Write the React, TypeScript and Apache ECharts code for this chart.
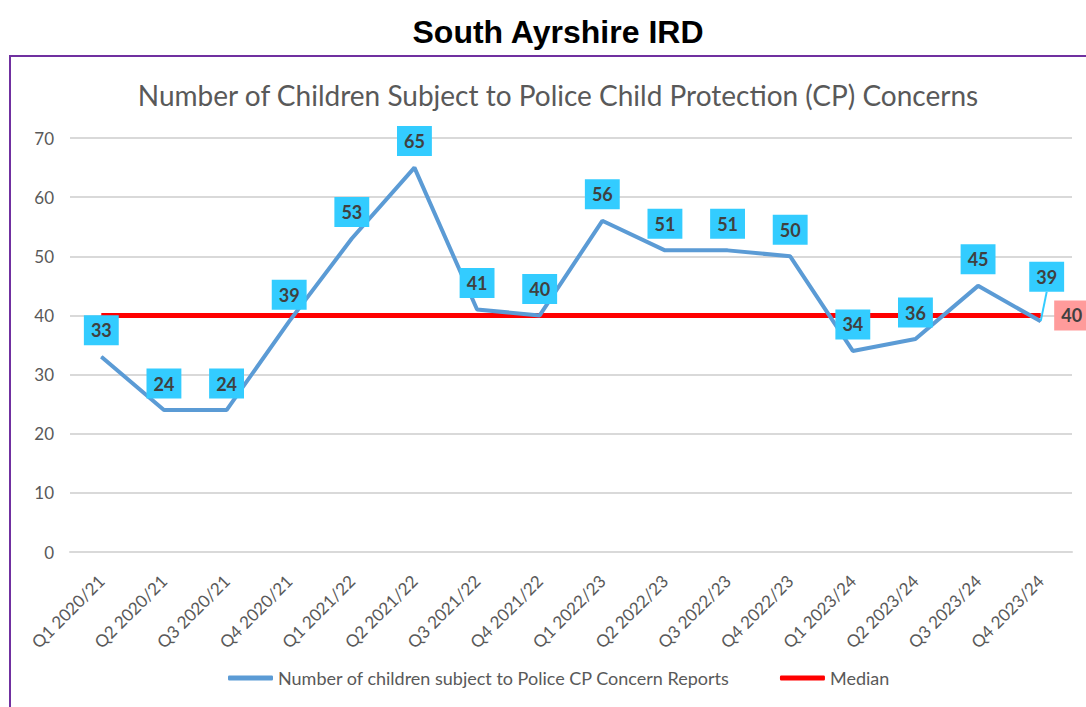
import React, { useEffect, useRef } from "react";
import * as echarts from "echarts";

const categories = [
  "Q1 2020/21", "Q2 2020/21", "Q3 2020/21", "Q4 2020/21",
  "Q1 2021/22", "Q2 2021/22", "Q3 2021/22", "Q4 2021/22",
  "Q1 2022/23", "Q2 2022/23", "Q3 2022/23", "Q4 2022/23",
  "Q1 2023/24", "Q2 2023/24", "Q3 2023/24", "Q4 2023/24",
];
const reports = [33, 24, 24, 39, 53, 65, 41, 40, 56, 51, 51, 50, 34, 36, 45, 39];
const medianValue = 40;
const median = categories.map(() => medianValue);

const pageTitle = "South Ayrshire IRD";
const chartTitle = "Number of Children Subject to Police Child Protection (CP) Concerns";
const seriesName = "Number of children subject to Police CP Concern Reports";
const medianName = "Median";

const FONT = "Lato";

export default function App() {
  const ref = useRef<HTMLDivElement>(null);
  useEffect(() => {
    const chart = echarts.init(ref.current!, null, { renderer: "svg" });
    const lastIdx = reports.length - 1;
    chart.setOption({
      animation: false,
      backgroundColor: "#ffffff",
      textStyle: { fontFamily: FONT },
      title: [
        {
          text: pageTitle,
          left: 553,
          textAlign: "center",
          top: 11,
          textStyle: { fontFamily: "Liberation Sans", fontWeight: "bold", fontSize: 32, color: "#000000" },
        },
        {
          text: chartTitle,
          left: 553,
          textAlign: "center",
          top: 76,
          textStyle: { fontFamily: FONT, fontWeight: "normal", fontSize: 28, color: "#595959" },
        },
      ],
      graphic: [
        {
          type: "rect",
          shape: { x: 10, y: 56, width: 1100, height: 700 },
          style: { fill: "none", stroke: "#7030A0", lineWidth: 2 },
          silent: true,
          z: 0,
        },
      ],
      legend: {
        bottom: 15,
        left: 223,
        itemGap: 50,
        itemWidth: 45,
        itemHeight: 5,
        textStyle: { fontFamily: FONT, fontSize: 18, color: "#595959" },
        data: [
          { name: seriesName, icon: "roundRect", itemStyle: { color: "#5B9BD5" } },
          { name: medianName, icon: "roundRect", itemStyle: { color: "#FF0000" } },
        ],
      },
      grid: { left: 70, right: 14, top: 138, bottom: 155, containLabel: false },
      xAxis: {
        type: "category",
        data: categories,
        boundaryGap: true,
        axisLine: { lineStyle: { color: "#D9D9D9", width: 2 } },
        axisTick: { show: false },
        axisLabel: { rotate: 45, fontFamily: FONT, fontSize: 17, color: "#595959", margin: 26, interval: 0 },
      },
      yAxis: {
        type: "value",
        min: 0,
        max: 70,
        interval: 10,
        axisLine: { show: false },
        axisTick: { show: false },
        axisLabel: { fontFamily: FONT, fontSize: 17, color: "#595959", margin: 16 },
        splitLine: { lineStyle: { color: "#D9D9D9", width: 2 } },
      },
      series: [
        {
          name: seriesName,
          type: "line",
          data: reports.map((v, i) =>
            i === lastIdx
              ? { value: v, labelLine: { show: true, lineStyle: { color: "#33CCFF", width: 2 } } }
              : v
          ),
          symbol: "circle",
          symbolSize: 1,
          showSymbol: true,
          lineStyle: { color: "#5B9BD5", width: 4 },
          itemStyle: { color: "#5B9BD5" },
          z: 3,
          label: {
            show: true,
            position: "top",
            distance: 11,
            backgroundColor: "#33CCFF",
            padding: [6, 7, 6, 7],
            color: "#404040",
            fontWeight: "bold",
            fontFamily: FONT,
            fontSize: 18,
          },
          labelLayout: (params: any) => {
            if (params.dataIndex === lastIdx) return { dx: 6, dy: -18 };
            return {};
          },
        },
        {
          name: medianName,
          type: "line",
          data: median.map((v, i) =>
            i === lastIdx
              ? {
                  value: v,
                  label: {
                    show: true,
                    position: "right",
                    distance: 13,
                    backgroundColor: "#FF9B9B",
                    padding: [6, 7, 6, 7],
                    color: "#404040",
                    fontWeight: "bold",
                    fontFamily: FONT,
                    fontSize: 18,
                  },
                }
              : v
          ),
          symbol: "circle",
          symbolSize: 1,
          showSymbol: true,
          lineStyle: { color: "#FF0000", width: 5 },
          itemStyle: { color: "#FF0000" },
          z: 2,
          label: { show: false },
        },
      ],
    });
    return () => chart.dispose();
  }, []);
  return <div ref={ref} style={{ position: "absolute", left: 0, top: 0, width: 1086, height: 707 }} />;
}
